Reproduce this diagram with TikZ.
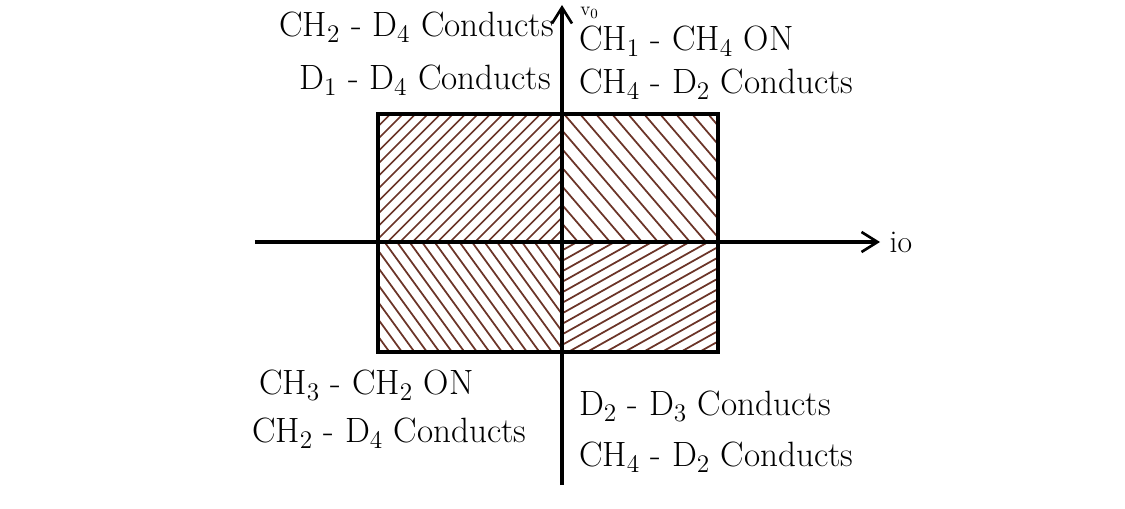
\documentclass[tikz,border=0pt]{standalone}
\usepackage{tikz}
\usetikzlibrary{arrows.meta,positioning}
\definecolor{pen}{HTML}{6B3428}

\begin{document}
\begin{tikzpicture}[
    axis/.style={line width=1.8pt, -{Straight Barb[length=3.2mm,width=4mm,line width=1.5pt]}},
    frame/.style={line width=2pt},
    hatch/.style={draw=pen, line width=1pt},
    mode/.style={font=\fontsize{20}{24}\selectfont, inner sep=1pt},
    axlabel/.style={font=\fontsize{18}{20}\selectfont, inner sep=1pt}
]
\useasboundingbox (-11.24,-5.32) rectangle (11.26,4.84);

% operating region
\coordinate (bl) at (-3.68,-2.2);
\coordinate (tr) at (3.12,2.56);

% quadrant I
\begin{scope}
    \clip (0,0) rectangle (tr);
    \foreach \s in {0,...,17}
        \draw[hatch] (-2.2+\s*0.32,2.56) -- ++(2.2,-2.56);
\end{scope}
% quadrant II
\begin{scope}
    \clip (-3.68,0) rectangle (0,2.56);
    \foreach \s in {0,...,25}
        \draw[hatch] (-6.24+\s*0.25,0) -- ++(2.56,2.56);
\end{scope}
% quadrant III
\begin{scope}
    \clip (bl) rectangle (0,0);
    \foreach \s in {0,...,22}
        \draw[hatch] (-5.3+\s*0.25,0) -- ++(1.6,-2.2);
\end{scope}
% quadrant IV
\begin{scope}
    \clip (0,-2.2) rectangle (3.12,0);
    \foreach \s in {0,...,19}
        \draw[hatch] (0,-3.95+\s*0.21) -- ++(3.12,1.75);
\end{scope}

\draw[frame] (bl) rectangle (tr);

% axes
\coordinate (hleft) at (-6.14,0);
\coordinate (hright) at (6.36,0);
\coordinate (vbot) at (0,-4.86);
\coordinate (vtop) at (0,4.74);
\draw[axis] (hleft) -- (hright);
\draw[axis] (vbot) -- (vtop);
\node[axlabel, right=0.15cm of hright] (io) {io};
\node[font=\fontsize{11}{12}\selectfont, inner sep=0pt, anchor=north] (vo) at (0.55,4.7) {v$_0$};

% device states
\node[mode, anchor=east] (q2a) at (-0.12,4.3) {CH$_2$ - D$_4$ Conducts};
\node[mode, anchor=east] (q2b) at (-0.18,3.24) {D$_1$ - D$_4$ Conducts};
\node[mode, anchor=west] (q1a) at (0.3,4.02) {CH$_1$ - CH$_4$ ON};
\node[mode, anchor=west] (q1b) at (0.3,3.16) {CH$_4$ - D$_2$ Conducts};
\node[mode, anchor=west] (q3a) at (-6.1,-2.86) {CH$_3$ - CH$_2$ ON};
\node[mode, anchor=west] (q3b) at (-6.24,-3.82) {CH$_2$ - D$_4$ Conducts};
\node[mode, anchor=west] (q4a) at (0.3,-3.28) {D$_2$ - D$_3$ Conducts};
\node[mode, anchor=west] (q4b) at (0.3,-4.3) {CH$_4$ - D$_2$ Conducts};

\end{tikzpicture}
\end{document}
